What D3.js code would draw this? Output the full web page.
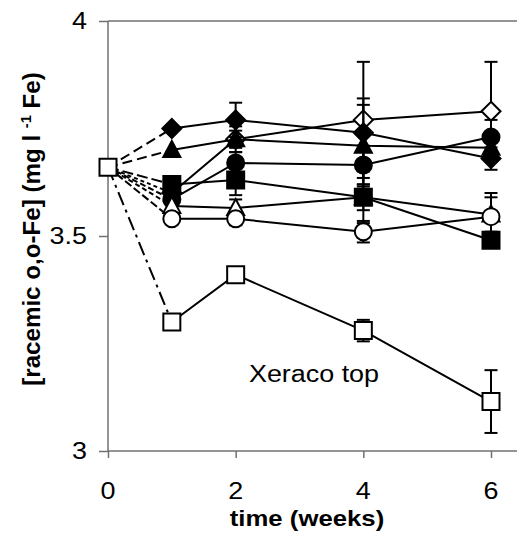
<!DOCTYPE html>
<html>
<head>
<meta charset="utf-8">
<script src="https://cdn.jsdelivr.net/npm/d3@7"></script>
<style>
  body { margin: 0; background: #fff; }
  text { font-family: "Liberation Sans", Arial, sans-serif; fill: #000; }
</style>
</head>
<body>
<svg id="chart" width="517" height="533"></svg>
<script>
// --- dati ---
const weeks = [1, 2, 4, 6];
const startWeek = 0;
const startValue = 3.66;
// ordine di disegno (dal fondo verso l'alto)
const seriesNames = ["oDiamond", "fTriangle", "fDiamond", "fCircle", "oTriangle", "fSquare", "oCircle", "oSquare"];

const oDiamondValues  = [3.60, 3.725, 3.77, 3.79];
const fTriangleValues = [3.70, 3.725, 3.71, 3.705];
const fDiamondValues  = [3.75, 3.77, 3.74, 3.68];
const fCircleValues   = [3.585, 3.67, 3.665, 3.73];
const fSquareValues   = [3.62, 3.63, 3.59, 3.49];
const oTriangleValues = [3.57, 3.565, 3.59, 3.55];
const oCircleValues   = [3.54, 3.54, 3.51, 3.545];
const oSquareValues   = [3.30, 3.41, 3.28, 3.115];

// barre d'errore (+/-)
const oDiamondErr  = [0, 0.02, 0.135, 0.115];
const fTriangleErr = [0, 0.03, 0.095, 0.02];
const fDiamondErr  = [0, 0.04, 0.08, 0.026];
const fCircleErr   = [0, 0.025, 0.045, 0.04];
const fSquareErr   = [0, 0.035, 0.06, 0.015];
const oTriangleErr = [0, 0.02, 0.03, 0.04];
const oCircleErr   = [0, 0.015, 0.025, 0.055];
const oSquareErr   = [0, 0.01, 0.025, 0.073];

const xTicks = [0, 2, 4, 6];
const yTicks = [3, 3.5, 4];
const yTickLabels = ["3", "3.5", "4"];
const annotation = "Xeraco top";

const seriesData = {
  oDiamond:  { values: oDiamondValues,  err: oDiamondErr },
  fTriangle: { values: fTriangleValues, err: fTriangleErr },
  fDiamond:  { values: fDiamondValues,  err: fDiamondErr },
  fCircle:   { values: fCircleValues,   err: fCircleErr },
  fSquare:   { values: fSquareValues,   err: fSquareErr },
  oTriangle: { values: oTriangleValues, err: oTriangleErr },
  oCircle:   { values: oCircleValues,   err: oCircleErr },
  oSquare:   { values: oSquareValues,   err: oSquareErr }
};

// --- stili ---
const markerStyle = {
  oDiamond:  { shape: "diamond",  filled: false, dash: "4,3" },
  fTriangle: { shape: "triangle", filled: true,  dash: "10,5" },
  fDiamond:  { shape: "diamond",  filled: true,  dash: "10,5" },
  fCircle:   { shape: "circle",   filled: true,  dash: "6,3" },
  fSquare:   { shape: "square",   filled: true,  dash: "11,4" },
  oTriangle: { shape: "triangle", filled: false, dash: "5,3" },
  oCircle:   { shape: "circle",   filled: false, dash: "8,3" },
  oSquare:   { shape: "square",   filled: false, dash: "14,5,3,5" }
};

const svg = d3.select("#chart");
const plotLeft = 108, plotRight = 491, plotTop = 21, plotBottom = 451;
const textStretch = 1.17; // il font originale e' piu' largo

const x = d3.scaleLinear().domain([0, 6]).range([plotLeft, plotRight]);
const y = d3.scaleLinear().domain([3, 4]).range([plotBottom, plotTop]);

// cornice del grafico (continua oltre il bordo destro)
const frameColor = "#707070";
svg.append("line").attr("x1", plotLeft).attr("x2", 517).attr("y1", plotTop).attr("y2", plotTop)
  .style("stroke", frameColor).style("stroke-width", 1.5);

// assi
const xAxis = svg.append("g").attr("transform", `translate(0,${plotBottom})`)
  .call(d3.axisBottom(x).tickValues(xTicks).tickSize(7).tickFormat(""));
xAxis.select(".domain").remove();
xAxis.append("line").attr("x1", plotLeft).attr("x2", 517)
  .style("stroke", frameColor).style("stroke-width", 1.5);
xAxis.selectAll(".tick line").style("stroke", frameColor).style("stroke-width", 1.5);

const yAxis = svg.append("g").attr("transform", `translate(${plotLeft},0)`)
  .call(d3.axisLeft(y).tickValues(yTicks).tickSize(9).tickFormat(""));
yAxis.select(".domain").remove();
yAxis.append("line").attr("y1", plotTop).attr("y2", plotBottom)
  .style("stroke", frameColor).style("stroke-width", 1.5);
yAxis.selectAll(".tick line").style("stroke", frameColor).style("stroke-width", 1.5);

// etichette tacche
function stretchedText(g, tx, ty, str, anchor, size, weight) {
  return g.append("text")
    .attr("transform", `translate(${tx},${ty}) scale(${textStretch},1)`)
    .attr("text-anchor", anchor)
    .style("font-size", size + "px")
    .style("font-weight", weight || "normal")
    .text(str);
}

xTicks.forEach(t => stretchedText(svg, x(t), 499, String(t), "middle", 23));
yTicks.forEach((t, i) => stretchedText(svg, 87, y(t) + 8, yTickLabels[i], "end", 23));

// titoli
stretchedText(svg, 307, 526, "time (weeks)", "middle", 22, "bold");

const yTitle = svg.append("text")
  .attr("transform", `translate(40,229) rotate(-90) scale(1.05,1)`)
  .attr("text-anchor", "middle")
  .style("font-size", "23px")
  .style("font-weight", "bold");
yTitle.append("tspan").text("[racemic o,o-Fe] (mg l ");
yTitle.append("tspan").attr("dy", -9).style("font-size", "14px").text("-1");
yTitle.append("tspan").attr("dy", 9).text(" Fe)");

// forme dei marcatori
function markerPath(shape) {
  if (shape === "diamond") return "M0,-9.5L9.5,0L0,9.5L-9.5,0Z";
  if (shape === "triangle") return "M0,-9L8.5,7L-8.5,7Z";
  if (shape === "square") return "M-8.5,-8.5H8.5V8.5H-8.5Z";
  return d3.arc()({ innerRadius: 0, outerRadius: 8.5, startAngle: 0, endAngle: 2 * Math.PI });
}

const line = d3.line().x(d => x(d.w)).y(d => y(d.v));

// segmenti tratteggiati iniziali (da t=0 a t=1)
seriesNames.forEach(name => {
  const s = seriesData[name];
  svg.append("path")
    .datum([{ w: startWeek, v: startValue }, { w: weeks[0], v: s.values[0] }])
    .attr("d", line)
    .style("fill", "none")
    .style("stroke", "#000")
    .style("stroke-width", 2)
    .style("stroke-dasharray", markerStyle[name].dash);
});

// serie: linea, barre d'errore, marcatori
seriesNames.forEach(name => {
  const s = seriesData[name];
  const st = markerStyle[name];
  const pts = weeks.map((w, i) => ({ w: w, v: s.values[i], e: s.err[i] }));
  const g = svg.append("g").attr("class", "series-" + name);

  g.append("path").datum(pts).attr("d", line)
    .style("fill", "none").style("stroke", "#000").style("stroke-width", 2);

  pts.filter(p => p.e > 0).forEach(p => {
    const cx = x(p.w), y1 = y(p.v + p.e), y2 = y(p.v - p.e);
    g.append("line").attr("x1", cx).attr("x2", cx).attr("y1", y1).attr("y2", y2)
      .style("stroke", "#000").style("stroke-width", 2);
    [y1, y2].forEach(yy => g.append("line")
      .attr("x1", cx - 6.5).attr("x2", cx + 6.5).attr("y1", yy).attr("y2", yy)
      .style("stroke", "#000").style("stroke-width", 2));
  });

  g.selectAll(".marker").data(pts).enter().append("path")
    .attr("class", "marker")
    .attr("transform", d => `translate(${x(d.w)},${y(d.v)})`)
    .attr("d", markerPath(st.shape))
    .style("fill", st.filled ? "#000" : "#fff")
    .style("stroke", "#000")
    .style("stroke-width", 2);
});

// punto iniziale comune
svg.append("path")
  .attr("transform", `translate(${x(startWeek)},${y(startValue)})`)
  .attr("d", markerPath("square"))
  .style("fill", "#fff").style("stroke", "#000").style("stroke-width", 2);

// annotazione
stretchedText(svg, 314, 382, annotation, "middle", 23);
</script>
</body>
</html>
